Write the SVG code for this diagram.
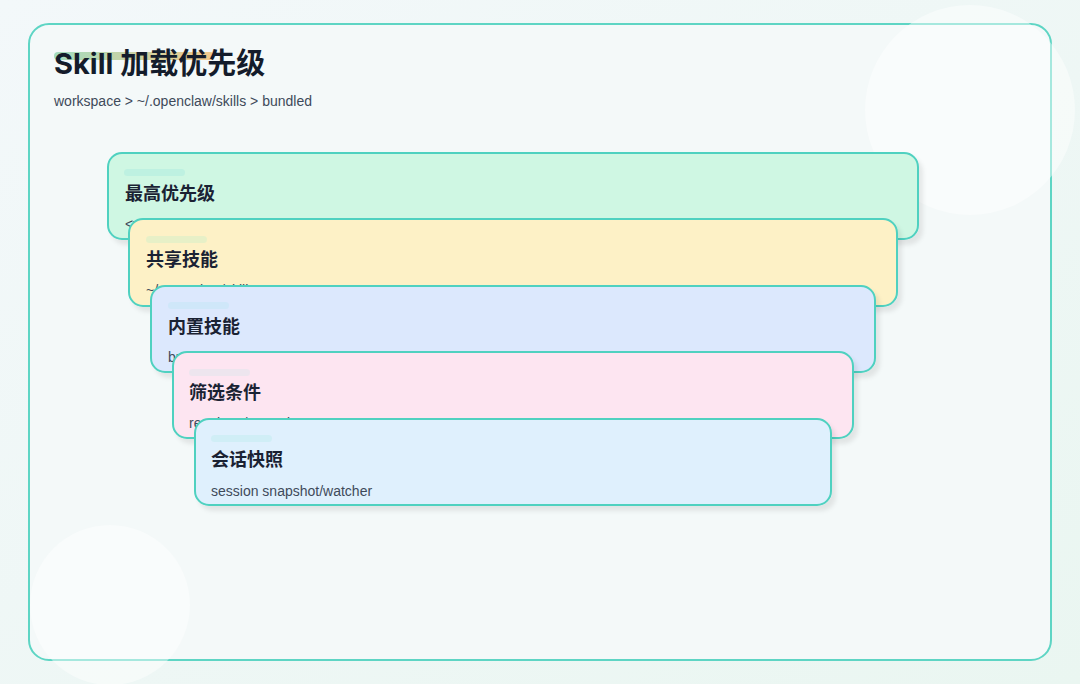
<svg xmlns="http://www.w3.org/2000/svg" width="1080" height="684" viewBox="0 0 1080 684">
<defs>
<linearGradient id="bg" x1="0" y1="0" x2="1" y2="1"><stop offset="0" stop-color="#f3f8fa"/><stop offset="1" stop-color="#eaf6f1"/></linearGradient>
<linearGradient id="hl" x1="0" y1="0" x2="1" y2="0"><stop offset="0" stop-color="#7fcfa6"/><stop offset="1" stop-color="#f2b45a"/></linearGradient>
<filter id="sh" x="-5%" y="-20%" width="110%" height="150%"><feDropShadow dx="4" dy="5" stdDeviation="2" flood-color="#000" flood-opacity="0.08"/></filter>
<style>
.card{stroke:#4fd1c0;stroke-width:2;filter:url(#sh)}
.t{font-family:"Noto Sans CJK SC","Liberation Sans",sans-serif;font-weight:700;font-size:18px;fill:#1a2233}
.s{font-family:"Liberation Sans","Noto Sans CJK SC",sans-serif;font-size:14px;fill:#3e4a5a}
.pill{opacity:0.6}
</style>
</defs>
<rect width="1080" height="684" fill="url(#bg)"/>
<rect x="29" y="24" width="1022" height="636" rx="20" fill="#f4f9f9" stroke="#5ed5c4" stroke-width="2"/>
<circle cx="970" cy="110" r="105" fill="#ffffff" opacity="0.45"/>
<circle cx="110" cy="605" r="80" fill="#ffffff" opacity="0.45"/>
<rect x="54" y="52" width="160" height="8" rx="4" fill="url(#hl)" opacity="0.7"/>
<text x="54" y="74" font-family="Inter,'Noto Sans CJK SC',sans-serif" font-weight="700" font-size="29" fill="#141c2b">Skill 加载优先级</text>
<text x="54" y="106" class="s" font-size="15">workspace &gt; ~/.openclaw/skills &gt; bundled</text>
<g id="node1"><rect class="card" x="108" y="153" width="810" height="86" rx="14" fill="#cff7e3"/><rect class="pill" x="124" y="169" width="61" height="7" rx="3.5" fill="#b3ece0"/><text class="t" x="125" y="200">最高优先级</text><text class="s" x="125" y="229">&lt;workspace&gt;/skills</text></g>
<g id="node2"><rect class="card" x="129" y="219" width="768" height="87" rx="14" fill="#fdf1c6"/><rect class="pill" x="146" y="236" width="61" height="7" rx="3.5" fill="#d8f0c8"/><text class="t" x="146" y="266">共享技能</text><text class="s" x="146" y="295">~/.openclaw/skills</text></g>
<g id="node3"><rect class="card" x="151" y="286" width="724" height="86" rx="14" fill="#dce8fd"/><rect class="pill" x="168" y="302" width="61" height="7" rx="3.5" fill="#c7e6f6"/><text class="t" x="168" y="333">内置技能</text><text class="s" x="168" y="362">bundled skills</text></g>
<g id="node4"><rect class="card" x="173" y="352" width="680" height="86" rx="14" fill="#fde5f1"/><rect class="pill" x="189" y="369" width="61" height="7" rx="3.5" fill="#e2e5ec"/><text class="t" x="189" y="399">筛选条件</text><text class="s" x="189" y="428">requires / metadata</text></g>
<g id="node5"><rect class="card" x="195" y="419" width="636" height="86" rx="14" fill="#dff0fd"/><rect class="pill" x="211" y="435" width="61" height="7" rx="3.5" fill="#c6ecf2"/><text class="t" x="211" y="466">会话快照</text><text class="s" x="211" y="496">session snapshot/watcher</text></g>
<g id="connectors"/>
</svg>
